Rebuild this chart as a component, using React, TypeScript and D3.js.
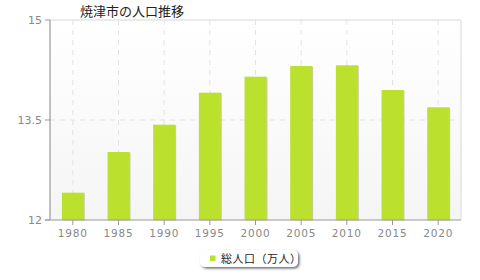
import React from "react";
import * as d3 from "d3";

const title = "焼津市の人口推移";
const years = ["1980", "1985", "1990", "1995", "2000", "2005", "2010", "2015", "2020"];
const population = [12.41, 13.02, 13.43, 13.91, 14.15, 14.31, 14.32, 13.95, 13.69];
const yTicks = [12, 13.5, 15];
const yTickLabels = ["12", "13.5", "15"];
const legendLabel = "総人口（万人）";

const W = 480;
const H = 280;
const M = { left: 50, right: 19, top: 20, bottom: 60 };

export default function App() {
  const x = d3
    .scaleBand<string>()
    .domain(years)
    .range([M.left, W - M.right])
    .paddingInner(0.52)
    .paddingOuter(0.26);
  const xc = d3.scalePoint<string>().domain(years).range([M.left, W - M.right]).padding(0.5);
  const y = d3.scaleLinear().domain([12, 15]).range([H - M.bottom, M.top]);
  const font = "'DejaVu Sans', sans-serif";
  const x0 = M.left;
  const x1 = W - M.right;
  const yb = y(12);
  const yt = y(15);
  return (
    <svg width={W} height={H} style={{ position: "absolute", left: 0, top: 0 }}>
      <defs>
        <linearGradient id="bg" x1="0" y1="0" x2="0" y2="1">
          <stop offset="0" stopColor="#ffffff" />
          <stop offset="1" stopColor="#f5f5f5" />
        </linearGradient>
        <filter id="lsh" x="-10%" y="-30%" width="130%" height="180%">
          <feDropShadow dx="1.5" dy="1.5" stdDeviation="0.8" floodColor="#555a70" floodOpacity="0.9" />
        </filter>
      </defs>
      <rect x={0} y={0} width={W} height={H} fill="#fff" />
      <rect x={x0} y={yt} width={x1 - x0} height={yb - yt} fill="url(#bg)" />
      {/* border */}
      <line x1={x0} x2={x1} y1={yt} y2={yt} stroke="#e4e4e4" strokeWidth={1.5} />
      <line x1={x1} x2={x1} y1={yt} y2={yb} stroke="#e4e4e4" strokeWidth={1.5} />
      {/* grid */}
      {years.map((yr) => (
        <line
          key={"g" + yr}
          x1={xc(yr)!}
          x2={xc(yr)!}
          y1={yt}
          y2={yb}
          stroke="#e2e2e2"
          strokeDasharray="5,5"
        />
      ))}
      {yTicks
        .filter((t) => t !== 12 && t !== 15)
        .map((t) => (
          <line
            key={"h" + t}
            x1={x0}
            x2={x1}
            y1={y(t)}
            y2={y(t)}
            stroke="#e2e2e2"
            strokeDasharray="5,5"
          />
        ))}
      {/* bars */}
      {years.map((yr, i) => (
        <g key={"b" + yr}>
          <rect
            x={x(yr)! + 1}
            y={y(population[i]) + 0.5}
            width={x.bandwidth()}
            height={yb - y(population[i])}
            fill="#9aa860"
            opacity={0.55}
          />
          <rect
            x={x(yr)!}
            y={y(population[i])}
            width={x.bandwidth()}
            height={yb - y(population[i])}
            fill="#bce02e"
          />
        </g>
      ))}
      {/* axes */}
      <line x1={x0} x2={x0} y1={yt} y2={yb} stroke="#999" strokeWidth={1.2} />
      <line x1={x0 - 5} x2={x1} y1={yb} y2={yb} stroke="#999" strokeWidth={1.2} />
      {yTicks.map((t, i) => (
        <g key={"yt" + t}>
          <line x1={x0 - 5} x2={x0} y1={y(t)} y2={y(t)} stroke="#999" />
          <text
            x={x0 - 8}
            y={y(t) + 4}
            textAnchor="end"
            fontFamily={font}
            fontSize={11}
            fill="#888"
          >
            {yTickLabels[i]}
          </text>
        </g>
      ))}
      {years.map((yr) => (
        <g key={"xt" + yr}>
          <line x1={xc(yr)!} x2={xc(yr)!} y1={yb} y2={yb + 5} stroke="#999" />
          <text
            x={xc(yr)!}
            y={yb + 17}
            textAnchor="middle"
            fontFamily={font}
            fontSize={10.5}
            fill="#888"
            letterSpacing={0.8}
          >
            {yr}
          </text>
        </g>
      ))}
      {/* title */}
      <text x={80} y={16} fontFamily="'Noto Sans CJK JP', sans-serif" fontSize={13} fill="#222">
        {title}
      </text>
      {/* legend */}
      <rect x={200} y={250} width={98} height={17} rx={5} fill="#fff" filter="url(#lsh)" />
      <rect x={210} y={255.5} width={5.5} height={5.5} fill="#bce02e" />
      <text
        x={221}
        y={262.5}
        fontFamily="'Noto Sans CJK JP', sans-serif"
        fontSize={11}
        fill="#222"
        letterSpacing={0.5}
      >
        {legendLabel}
      </text>
    </svg>
  );
}
